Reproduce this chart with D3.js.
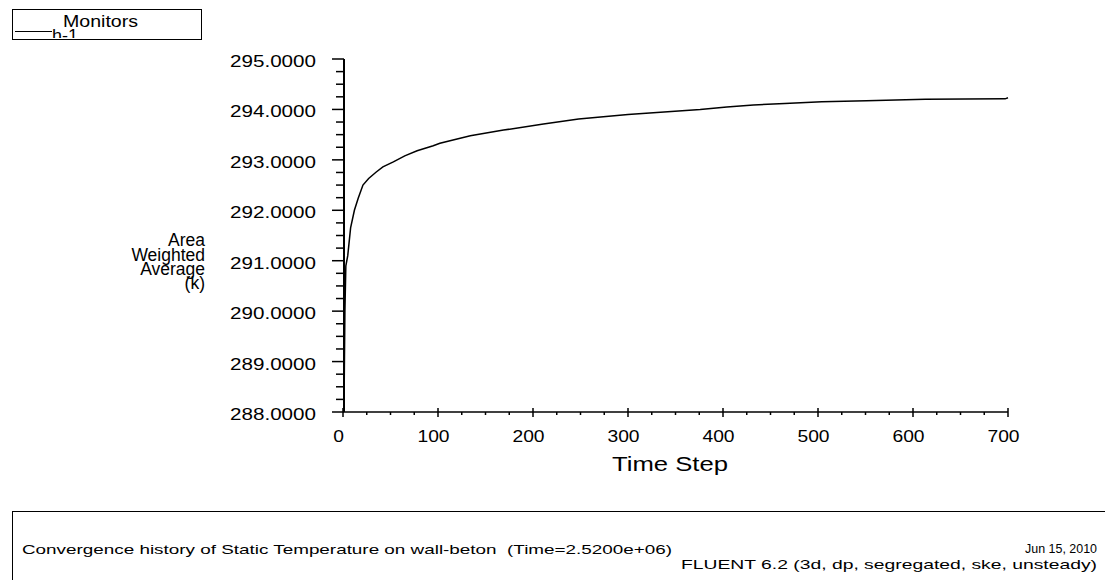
<!DOCTYPE html>
<html>
<head>
<meta charset="utf-8">
<script src="https://d3js.org/d3.v7.min.js"></script>
<style>
  html, body { margin: 0; padding: 0; background: #fff; }
  svg { display: block; }
  text { font-family: "Liberation Sans", Arial, Helvetica, sans-serif; fill: #000; white-space: pre; }
</style>
</head>
<body>
<svg id="chart" width="1105" height="580"></svg>
<script>
// Monitor h-1: area-weighted average static temperature on wall-beton
const timeStep = [1, 2, 3, 5, 8, 12, 16, 21, 27, 35, 42, 53, 65, 78, 95, 102, 134, 169, 211, 248, 300, 376, 404, 432, 465, 504, 551, 613, 697, 700];
const temperature = [288.0, 290.0, 290.9, 291.1, 291.65, 292.0, 292.24, 292.5, 292.63, 292.76, 292.86, 292.96, 293.08, 293.18, 293.28, 293.33, 293.48, 293.59, 293.71, 293.81, 293.90, 294.00, 294.05, 294.09, 294.12, 294.15, 294.17, 294.20, 294.21, 294.23];

const xTicks = [0, 100, 200, 300, 400, 500, 600, 700];
const yTicks = [288, 289, 290, 291, 292, 293, 294, 295];
const yLabelLines = ["Area", "Weighted", "Average", "(k)"];
const legendTitle = "Monitors";
const seriesName = "h-1";
const footerTitle = "Convergence history of Static Temperature on wall-beton  (Time=2.5200e+06)";
const footerDate = "Jun 15, 2010";
const footerSolver = "FLUENT 6.2 (3d, dp, segregated, ske, unsteady)";

const svg = d3.select("#chart");

const x = d3.scaleLinear().domain([0, 700]).range([343, 1008]);
const y = d3.scaleLinear().domain([288, 295]).range([412, 59]);

// ---- legend box ----
const legend = svg.append("g");
legend.append("clipPath").attr("id", "legClip")
  .append("rect").attr("x", 12).attr("y", 9).attr("width", 190).attr("height", 29);
legend.append("rect")
  .attr("x", 12.5).attr("y", 9.5).attr("width", 189).attr("height", 30)
  .attr("fill", "none").attr("stroke", "#000").attr("stroke-width", 1);
legend.append("text").attr("x", 63).attr("y", 27)
  .attr("font-size", 16).attr("textLength", 75).attr("lengthAdjust", "spacingAndGlyphs")
  .text(legendTitle);
legend.append("line").attr("x1", 15).attr("x2", 52).attr("y1", 31.5).attr("y2", 31.5)
  .attr("stroke", "#000").attr("stroke-width", 1.2);
legend.append("text").attr("x", 52).attr("y", 41).attr("clip-path", "url(#legClip)")
  .attr("font-size", 16).attr("textLength", 26).attr("lengthAdjust", "spacingAndGlyphs")
  .text(seriesName);

// ---- y axis ----
const yAxis = svg.append("g");
yAxis.append("line")
  .attr("x1", 344).attr("x2", 344).attr("y1", y(295)).attr("y2", y(288))
  .attr("stroke", "#000").attr("stroke-width", 2);
const yMinor = d3.range(288, 295.001, 0.25).filter(v => Math.abs(v - Math.round(v)) > 1e-6);
yAxis.selectAll("line.minor").data(yMinor).join("line")
  .attr("class", "minor")
  .attr("x1", 336).attr("x2", 344).attr("y1", d => y(d)).attr("y2", d => y(d))
  .attr("stroke", "#000").attr("stroke-width", 1.5);
yAxis.selectAll("line.major").data(yTicks).join("line")
  .attr("class", "major")
  .attr("x1", 332).attr("x2", 344).attr("y1", d => y(d)).attr("y2", d => y(d))
  .attr("stroke", "#000").attr("stroke-width", 1.5);
yAxis.selectAll("text").data(yTicks).join("text")
  .attr("x", 316).attr("y", d => y(d) + 8)
  .attr("text-anchor", "end").attr("font-size", 16)
  .attr("textLength", 86).attr("lengthAdjust", "spacingAndGlyphs")
  .text(d => d.toFixed(4));

// ---- x axis ----
const xAxis = svg.append("g");
xAxis.append("line")
  .attr("x1", x(0)).attr("x2", x(700)).attr("y1", 412).attr("y2", 412)
  .attr("stroke", "#000").attr("stroke-width", 1.5);
const xMinor = d3.range(0, 700.001, 25).filter(v => v % 100 !== 0);
xAxis.selectAll("line.minor").data(xMinor).join("line")
  .attr("class", "minor")
  .attr("x1", d => x(d)).attr("x2", d => x(d)).attr("y1", 412).attr("y2", 415)
  .attr("stroke", "#000").attr("stroke-width", 1.5);
xAxis.selectAll("line.major").data(xTicks).join("line")
  .attr("class", "major")
  .attr("x1", d => x(d)).attr("x2", d => x(d)).attr("y1", 408).attr("y2", 417)
  .attr("stroke", "#000").attr("stroke-width", 1.5);
xAxis.selectAll("text").data(xTicks).join("text")
  .attr("x", d => x(d) - 4.5).attr("y", 442)
  .attr("text-anchor", "middle").attr("font-size", 16)
  .attr("textLength", d => String(d).length * 10.7).attr("lengthAdjust", "spacingAndGlyphs")
  .text(d => d);

// ---- axis titles ----
svg.append("text").attr("x", 670).attr("y", 471)
  .attr("text-anchor", "middle").attr("font-size", 21)
  .attr("textLength", 116).attr("lengthAdjust", "spacingAndGlyphs")
  .text("Time Step");

// stacked y title, right-aligned at the same edge
const yTitleBase = [246, 261, 275, 289];
svg.selectAll("text.ytitle").data(yLabelLines).join("text")
  .attr("class", "ytitle")
  .attr("x", 205).attr("y", (d, i) => yTitleBase[i])
  .attr("text-anchor", "end").attr("font-size", 17.5)
  .text(d => d);

// ---- monitor curve ----
const series = timeStep.map((t, i) => ({ t, v: temperature[i] }));
svg.append("path")
  .datum(series)
  .attr("fill", "none").attr("stroke", "#000").attr("stroke-width", 1.5)
  .attr("d", d3.line().x(d => x(d.t)).y(d => y(d.v)));

// ---- footer box ----
svg.append("rect")
  .attr("x", 12.5).attr("y", 511.5).attr("width", 1100).attr("height", 100)
  .attr("fill", "none").attr("stroke", "#000").attr("stroke-width", 1);
svg.append("text").attr("x", 22).attr("y", 554)
  .attr("font-size", 13).attr("textLength", 650).attr("lengthAdjust", "spacingAndGlyphs")
  .text(footerTitle);
svg.append("text").attr("x", 1097).attr("y", 553)
  .attr("text-anchor", "end").attr("font-size", 13)
  .attr("textLength", 72).attr("lengthAdjust", "spacingAndGlyphs")
  .text(footerDate);
svg.append("text").attr("x", 1097).attr("y", 569)
  .attr("text-anchor", "end").attr("font-size", 13)
  .attr("textLength", 416).attr("lengthAdjust", "spacingAndGlyphs")
  .text(footerSolver);
</script>
</body>
</html>
